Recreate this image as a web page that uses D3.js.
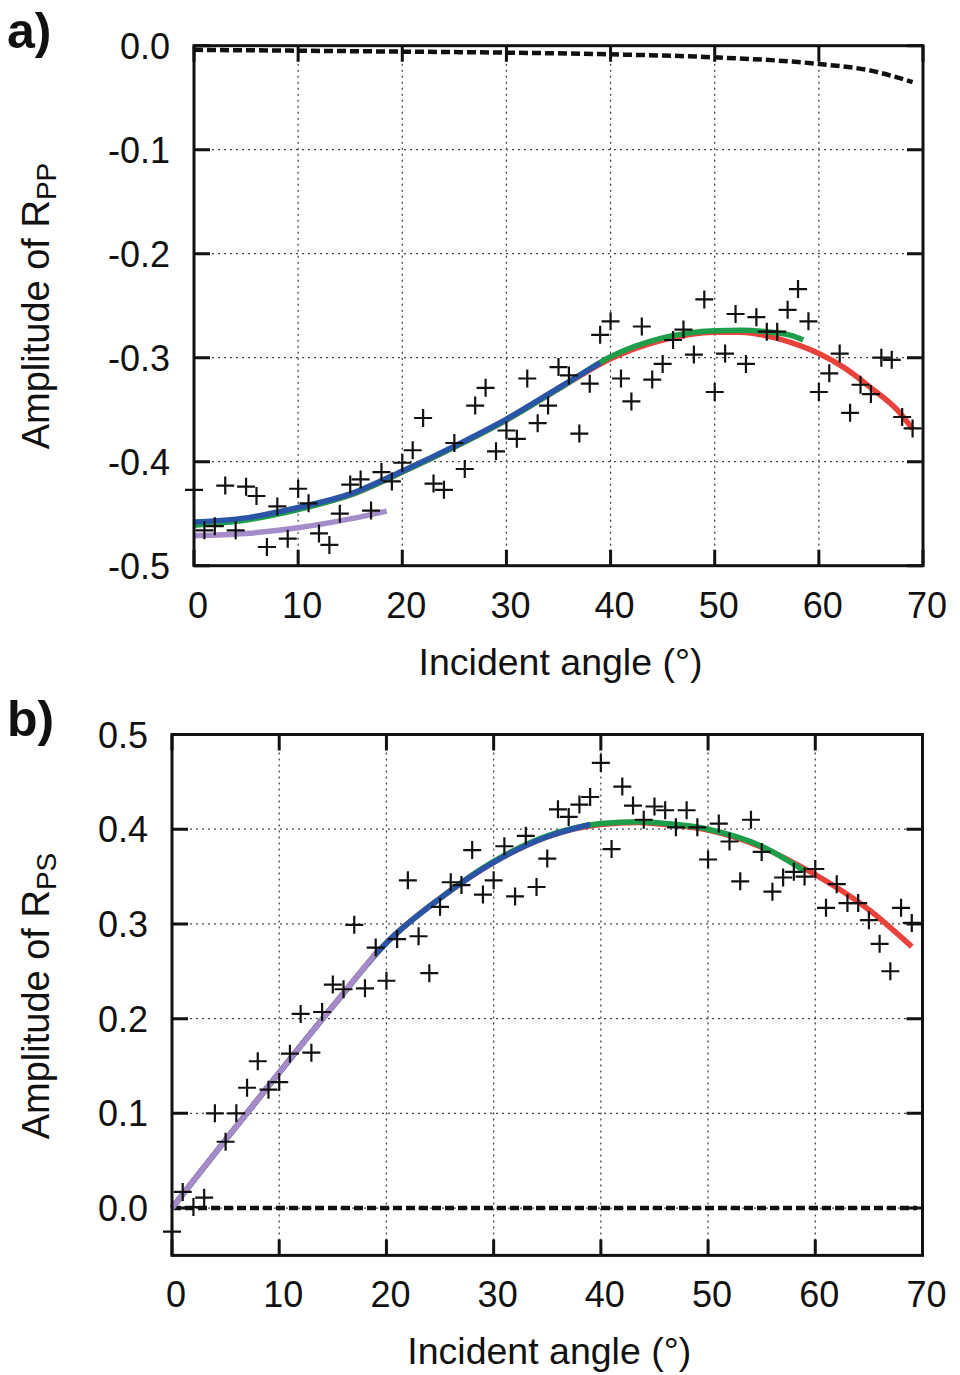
<!DOCTYPE html>
<html>
<head>
<meta charset="utf-8">
<script src="https://cdn.jsdelivr.net/npm/d3@7"></script>
<style>
  html, body { margin: 0; padding: 0; background: #fff; }
  svg text { font-family: "Liberation Sans", Arial, Helvetica, sans-serif; fill: #111; }
</style>
</head>
<body>
<div id="chart"></div>
<script>
// ---- data ----
const xTicks = [0, 10, 20, 30, 40, 50, 60, 70];
const rppTicks = [0.0, -0.1, -0.2, -0.3, -0.4, -0.5];
const rpsTicks = [0.0, 0.1, 0.2, 0.3, 0.4, 0.5];

const ptAngles = [0,1,2,3,4,5,6,7,8,9,10,11,12,13,14,15,16,17,18,19,20,21,22,23,24,25,26,27,28,29,
  30,31,32,33,34,35,36,37,38,39,40,41,42,43,44,45,46,47,48,49,50,51,52,53,54,55,56,57,58,59,
  60,61,62,63,64,65,66,67,68,69];

const rppPts = [-0.427,-0.466,-0.462,-0.423,-0.466,-0.424,-0.433,-0.482,-0.443,-0.474,
  -0.426,-0.440,-0.469,-0.480,-0.450,-0.422,-0.417,-0.447,-0.410,-0.419,
  -0.401,-0.389,-0.358,-0.421,-0.427,-0.382,-0.407,-0.346,-0.329,-0.390,
  -0.370,-0.378,-0.320,-0.363,-0.346,-0.309,-0.317,-0.373,-0.325,-0.278,
  -0.265,-0.320,-0.342,-0.270,-0.321,-0.306,-0.283,-0.273,-0.297,-0.244,
  -0.333,-0.296,-0.258,-0.306,-0.261,-0.275,-0.275,-0.254,-0.234,-0.265,
  -0.333,-0.315,-0.296,-0.353,-0.326,-0.335,-0.300,-0.302,-0.357,-0.368];

const rpsPts = [-0.025,0.017,0.001,0.011,0.100,0.070,0.100,0.127,0.155,0.125,
  0.133,0.163,0.205,0.164,0.207,0.236,0.231,0.299,0.232,0.275,
  0.240,0.284,0.346,0.287,0.248,0.318,0.344,0.341,0.378,0.331,
  0.346,0.382,0.329,0.393,0.339,0.369,0.421,0.413,0.426,0.434,
  0.470,0.379,0.445,0.425,0.410,0.424,0.420,0.402,0.420,0.402,
  0.368,0.406,0.387,0.345,0.410,0.376,0.334,0.349,0.355,0.350,
  0.358,0.317,0.342,0.322,0.322,0.304,0.279,0.250,0.317,0.301];

// panel a fitted curves
const rppDashAng = [0, 10, 20, 30, 40, 50, 60, 65, 69];
const rppDashVal = [-0.004, -0.0048, -0.0057, -0.0067, -0.0083, -0.0112, -0.0176, -0.024, -0.035];
const rppRedAng = [0, 5, 10, 15, 20, 25, 30, 35, 40, 45, 50, 52.5, 55, 57.5, 60, 62.5, 65, 67.5, 69];
const rppRedVal = [-0.459, -0.455, -0.445, -0.432, -0.410, -0.386, -0.360, -0.330, -0.301, -0.283,
  -0.2755, -0.2755, -0.279, -0.286, -0.296, -0.310, -0.329, -0.350, -0.3685];
const rppGreenAng = [0, 5, 10, 15, 20, 25, 30, 35, 40, 45, 50, 52.5, 55, 57.5, 58.5];
const rppGreenVal = [-0.461, -0.456, -0.446, -0.432, -0.410, -0.386, -0.360, -0.330, -0.299, -0.281,
  -0.274, -0.2735, -0.275, -0.279, -0.283];
const rppBlueAng = [0, 5, 10, 15, 20, 25, 30, 35, 39];
const rppBlueVal = [-0.458, -0.454, -0.444, -0.431, -0.409, -0.385, -0.359, -0.329, -0.305];
const rppPurpleAng = [0, 5, 10, 15, 18.5];
const rppPurpleVal = [-0.471, -0.469, -0.4635, -0.455, -0.4475];

// panel b fitted curves
const rpsDashAng = [0, 35, 69.5];
const rpsDashVal = [0, 0, 0];
const rpsRedAng = [0, 5, 10, 15, 20, 25, 30, 35, 40, 43.5, 45, 50, 55, 60, 65, 69];
const rpsRedVal = [0, 0.072, 0.143, 0.213, 0.280, 0.327, 0.365, 0.392, 0.405, 0.407, 0.406,
  0.399, 0.381, 0.352, 0.315, 0.276];
const rpsGreenAng = [0, 5, 10, 15, 20, 25, 30, 35, 40, 43.5, 45, 50, 55, 59];
const rpsGreenVal = [0, 0.072, 0.143, 0.213, 0.280, 0.327, 0.366, 0.393, 0.406, 0.408, 0.407,
  0.400, 0.382, 0.356];
const rpsBlueAng = [0, 5, 10, 15, 20, 25, 30, 35, 39];
const rpsBlueVal = [0, 0.072, 0.143, 0.213, 0.280, 0.327, 0.365, 0.392, 0.405];
const rpsPurpleAng = [0, 5, 10, 15, 19];
const rpsPurpleVal = [0, 0.072, 0.143, 0.213, 0.269];

const W = 960, H = 1375;
const COL = { red: '#e8423b', green: '#1e9d4b', blue: '#2a54a6', purple: '#a58cc8' };
const zip = (xs, ys) => xs.map((x, i) => [x, ys[i]]);

const svg = d3.select('#chart').append('svg').attr('width', W).attr('height', H);

const drawPanel = cfg => {
  const x = d3.scaleLinear().domain([0, 70]).range([cfg.left, cfg.right]);
  const y = d3.scaleLinear().domain(cfg.yDomain).range([cfg.bottom, cfg.top]);
  const g = svg.append('g');

  // dotted grid
  g.selectAll('.gx').data(xTicks.slice(1, -1)).enter().append('line')
    .attr('x1', d => x(d)).attr('x2', d => x(d))
    .attr('y1', cfg.top).attr('y2', cfg.bottom)
    .attr('stroke', '#444').attr('stroke-width', 1.3).attr('stroke-dasharray', '2,4');
  g.selectAll('.gy').data(cfg.yTicks.filter(v => y(v) > cfg.top + 1 && y(v) < cfg.bottom - 1)).enter().append('line')
    .attr('x1', cfg.left).attr('x2', cfg.right)
    .attr('y1', d => y(d)).attr('y2', d => y(d))
    .attr('stroke', '#444').attr('stroke-width', 1.3).attr('stroke-dasharray', '2,4');

  // tick marks on all four sides, pointing in
  const TL = 16;
  g.selectAll('.tb').data(xTicks).enter().append('path')
    .attr('d', d => `M${x(d)},${cfg.bottom}v${-TL}M${x(d)},${cfg.top}v${TL}`)
    .attr('stroke', '#111').attr('stroke-width', 3);
  g.selectAll('.tl').data(cfg.yTicks).enter().append('path')
    .attr('d', d => `M${cfg.left},${y(d)}h${TL}M${cfg.right},${y(d)}h${-TL}`)
    .attr('stroke', '#111').attr('stroke-width', 3);

  // model curves
  const line = d3.line().x(d => x(d[0])).y(d => y(d[1])).curve(d3.curveMonotoneX);
  g.append('path').datum(zip(cfg.dashAng, cfg.dashVal)).attr('d', line)
    .attr('fill', 'none').attr('stroke', '#111').attr('stroke-width', 4.5)
    .attr('stroke-dasharray', '9,4');
  cfg.curves.forEach(c => {
    g.append('path').datum(zip(c.ang, c.val)).attr('d', line)
      .attr('fill', 'none').attr('stroke', c.color).attr('stroke-width', 5.5);
  });

  // measured points
  const S = 9;
  g.selectAll('.pt').data(zip(ptAngles, cfg.pts)).enter().append('path')
    .attr('d', d => `M${x(d[0]) - S},${y(d[1])}h${2 * S}M${x(d[0])},${y(d[1]) - S}v${2 * S}`)
    .attr('stroke', '#111').attr('stroke-width', 2.2);

  // frame
  g.append('rect').attr('x', cfg.left).attr('y', cfg.top)
    .attr('width', cfg.right - cfg.left).attr('height', cfg.bottom - cfg.top)
    .attr('fill', 'none').attr('stroke', '#111').attr('stroke-width', 3);

  // tick labels
  g.selectAll('.lx').data(xTicks).enter().append('text')
    .attr('x', d => x(d) + 4).attr('y', cfg.bottom + 52)
    .attr('text-anchor', 'middle').attr('font-size', 36).text(d => d);
  g.selectAll('.ly').data(cfg.yTicks).enter().append('text')
    .attr('x', cfg.left - 24).attr('y', d => y(d) + 13)
    .attr('text-anchor', 'end').attr('font-size', 36).text(d => d.toFixed(1));

  // axis titles
  g.append('text').attr('x', (cfg.left + cfg.right) / 2 + 2).attr('y', cfg.bottom + 109)
    .attr('text-anchor', 'middle').attr('font-size', 37.5).text('Incident angle (°)');
  const yt = g.append('text')
    .attr('transform', `translate(49,${cfg.yTitleY}) rotate(-90)`)
    .attr('text-anchor', 'middle').attr('font-size', 38);
  yt.append('tspan').text('Amplitude of R');
  yt.append('tspan').attr('font-size', 28).attr('dy', 7).text(cfg.sub);

  // panel letter
  g.append('text').attr('x', 7).attr('y', cfg.letterY)
    .attr('font-size', 50).attr('font-weight', 'bold').text(cfg.letter);
};

drawPanel({
  letter: 'a)', letterY: 48, sub: 'PP',
  left: 194, right: 923, top: 45.7, bottom: 565.7,
  yDomain: [-0.5, 0], yTicks: rppTicks, yTitleY: 306,
  pts: rppPts, dashAng: rppDashAng, dashVal: rppDashVal,
  curves: [
    { ang: rppRedAng, val: rppRedVal, color: COL.red },
    { ang: rppGreenAng, val: rppGreenVal, color: COL.green },
    { ang: rppBlueAng, val: rppBlueVal, color: COL.blue },
    { ang: rppPurpleAng, val: rppPurpleVal, color: COL.purple }
  ]
});

drawPanel({
  letter: 'b)', letterY: 736, sub: 'PS',
  left: 172, right: 922.5, top: 734.5, bottom: 1255.4,
  yDomain: [-0.05, 0.5], yTicks: rpsTicks, yTitleY: 996,
  pts: rpsPts, dashAng: rpsDashAng, dashVal: rpsDashVal,
  curves: [
    { ang: rpsRedAng, val: rpsRedVal, color: COL.red },
    { ang: rpsGreenAng, val: rpsGreenVal, color: COL.green },
    { ang: rpsBlueAng, val: rpsBlueVal, color: COL.blue },
    { ang: rpsPurpleAng, val: rpsPurpleVal, color: COL.purple }
  ]
});
</script>
</body>
</html>
